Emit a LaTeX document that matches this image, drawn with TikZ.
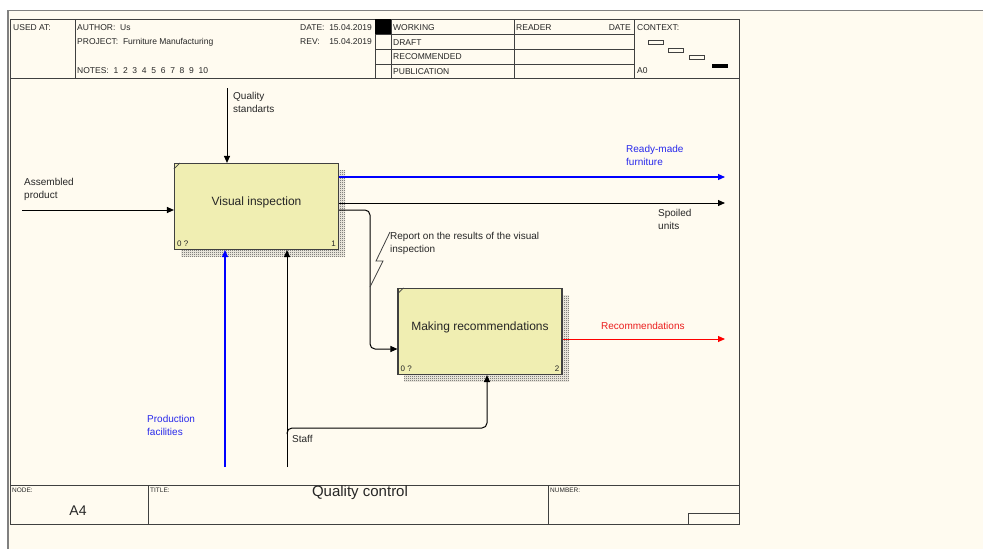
\documentclass[tikz,border=0pt]{standalone}
\usepackage{fontspec}
\setmainfont{Liberation Sans}
\usetikzlibrary{arrows.meta,patterns,positioning}

\definecolor{paper}{RGB}{255,251,240}
\definecolor{actfill}{RGB}{240,238,178}
\definecolor{frameclr}{RGB}{64,64,64}
\definecolor{flowblue}{RGB}{0,0,255}
\definecolor{textblue}{RGB}{40,40,235}
\definecolor{flowred}{RGB}{255,0,0}
\definecolor{textred}{RGB}{235,30,30}

\pgfdeclarepatternformonly{fine dither}{\pgfpointorigin}{\pgfpoint{2pt}{2pt}}{\pgfpoint{2pt}{2pt}}{
  \pgfpathrectangle{\pgfpointorigin}{\pgfpoint{1pt}{1pt}}
  \pgfpathrectangle{\pgfpoint{1pt}{1pt}}{\pgfpoint{1pt}{1pt}}
  \pgfusepath{fill}
}

\tikzset{
  frameline/.style={draw=frameclr, line width=0.9pt},
  headtxt/.style={font=\fontsize{8.5}{10}\selectfont, inner sep=0pt, anchor=west, text=black!85},
  tinytxt/.style={font=\fontsize{6.5}{8}\selectfont, inner sep=0pt, anchor=west, text=black!85},
  flowtxt/.style={font=\fontsize{10}{13}\selectfont, inner sep=0pt, anchor=north west, align=left, text=black!85},
  actbox/.style={draw=frameclr, line width=1.1pt, fill=actfill, minimum width=164pt, minimum height=86pt, inner sep=0pt, text height=9pt, text depth=12pt, font=\fontsize{12}{14}\selectfont, text=black!85},
  shadowbox/.style={pattern=fine dither, pattern color=black!75},
  cornertxt/.style={font=\fontsize{8}{9}\selectfont, inner sep=0pt, text=black!85},
  flow/.style={line width=1pt, -{Triangle[length=7pt,width=6pt]}},
  blueflow/.style={flow, color=flowblue, line width=1.1pt},
  redflow/.style={flow, color=flowred},
}

\begin{document}
\begin{tikzpicture}[x=1pt,y=-1pt]
        % page
        \useasboundingbox (0,0) rectangle (983,549);
        \fill[white] (0,0) rectangle (983,549);
        \fill[paper] (8,11) rectangle (983,549);
        \draw[gray, line width=1.2pt] (8,549) -- (8,10.5) -- (983,10.5);

        % frame, header and footer
        \draw[frameline] (10,19) rectangle (739,524);
        \draw[frameline] (10,78) -- (739,78);
        \draw[frameline] (10,485) -- (739,485);
        \foreach \x in {75,375,391,514,634} {
            \draw[frameline] (\x,19) -- (\x,78);
        }
        \foreach \y in {34,49,64} {
            \draw[frameline] (375,\y) -- (634,\y);
        }
        \fill[black] (375,19) rectangle (391,34);
        \foreach \x in {148,548} {
            \draw[frameline] (\x,485) -- (\x,524);
        }
        \draw[frameline] (688,524) |- (739,513);

        \node[headtxt] (usedat) at (13,28) {USED AT:};
        \node[headtxt] (author) at (77,28) {AUTHOR:\ \ Us};
        \node[headtxt] (project) at (77,42) {PROJECT:\ \ Furniture Manufacturing};
        \node[headtxt] (notes) at (77,71) {NOTES:\ \ 1\ \ 2\ \ 3\ \ 4\ \ 5\ \ 6\ \ 7\ \ 8\ \ 9\ \ 10};
        \node[headtxt] (datekey) at (300,28) {DATE:};
        \node[headtxt, anchor=east] (dateval) at (372,28) {15.04.2019};
        \node[headtxt] (revkey) at (300,42) {REV:};
        \node[headtxt, anchor=east] (revval) at (372,42) {15.04.2019};
        \foreach \t [count=\i] in {WORKING,DRAFT,RECOMMENDED,PUBLICATION} {
            \node[headtxt] (status\i) at (393,13.5+14.5*\i) {\t};
        }
        \node[headtxt] (reader) at (516,28) {READER};
        \node[headtxt, anchor=east] (readdate) at (631,28) {DATE};
        \node[headtxt] (context) at (637,28) {CONTEXT:};
        \node[headtxt] (ctxnode) at (637,71) {A0};
        \foreach \a/\b in {648/40,668/48,689/55} {
            \draw[frameclr, line width=0.8pt] (\a,\b) rectangle ++(15,4);
        }
        \fill[black] (712,64) rectangle ++(16,4);

        \node[tinytxt] (nodekey) at (12,490) {NODE:};
        \node[tinytxt] (titlekey) at (150,490) {TITLE:};
        \node[tinytxt] (numberkey) at (550,490) {NUMBER:};
        \node[font=\fontsize{15}{17}\selectfont, inner sep=0pt, text=black!85] (title) at (360,493) {Quality control};
        \node[font=\fontsize{14}{16}\selectfont, inner sep=0pt, text=black!85] (nodeval) at (78,511) {A4};

        % activity boxes
        \fill[shadowbox] (181,170) rectangle (345,256);
        \fill[shadowbox] (404,295) rectangle (569,381);
        \node[actbox] (inspect) at (256.5,206.5) {Visual inspection};
        \node[actbox] (recomm) at (480,331.5) {Making recommendations};
        \foreach \b/\n in {inspect/1,recomm/2} {
            \draw[frameclr, line width=0.6pt] ([yshift=-6pt]\b.north west) -- ([xshift=6pt]\b.north west);
            \node[cornertxt, anchor=south west] (\b zero) at ([shift={(3pt,3pt)}]\b.south west) {0 ?};
            \node[cornertxt, anchor=south east] (\b num) at ([shift={(-3pt,3pt)}]\b.south east) {\n};
        }

        % arrows
        \coordinate (qsTop) at (227,88);
        \draw[flow] (qsTop) -- (qsTop |- inspect.north);
        \node[flowtxt] (qsLbl) at (233,92) {Quality\\standarts};

        \coordinate (apIn) at (22,210);
        \draw[flow] (apIn) -- (apIn -| inspect.west);
        \node[flowtxt] (apLbl) at (24,178) {Assembled\\product};

        \coordinate (rmEnd) at (725,177);
        \draw[blueflow] (inspect.east |- rmEnd) -- (rmEnd);
        \node[flowtxt, text=textblue] (rmLbl) at (626,145) {Ready-made\\furniture};

        \coordinate (suEnd) at (725,203);
        \draw[flow] (inspect.east |- suEnd) -- (suEnd);
        \node[flowtxt] (suLbl) at (658,209) {Spoiled\\units};

        \coordinate (rpTurn) at (370,210);
        \coordinate (rpIn) at (380,349);
        \draw[flow, rounded corners=5pt] (inspect.east |- rpTurn) -- (rpTurn) |- (rpIn -| recomm.west);
        \node[flowtxt] (rpLbl) at (390,232) {Report on the results of the visual\\inspection};
        \draw[frameclr, line width=0.8pt] (370,287) -- (383,261) -- (376,261) -- (rpLbl.north west);

        \coordinate (pfBot) at (225,467);
        \draw[blueflow] (pfBot) -- (pfBot |- inspect.south);
        \node[flowtxt, text=textblue] (pfLbl) at (147,415) {Production\\facilities};

        \coordinate (stBot) at (287,467);
        \draw[flow] (stBot) -- (stBot |- inspect.south);
        \coordinate (stSplit) at (287,434);
        \coordinate (stBend) at (487,428);
        \draw[flow, rounded corners=5pt] (stSplit) |- (stBend) -- (stBend |- recomm.south);
        \node[flowtxt] (stLbl) at (292,435) {Staff};

        \coordinate (rcEnd) at (725,339);
        \draw[redflow] (recomm.east |- rcEnd) -- (rcEnd);
        \node[flowtxt, text=textred] (rcLbl) at (601,322) {Recommendations};
    \end{tikzpicture}
\end{document}
